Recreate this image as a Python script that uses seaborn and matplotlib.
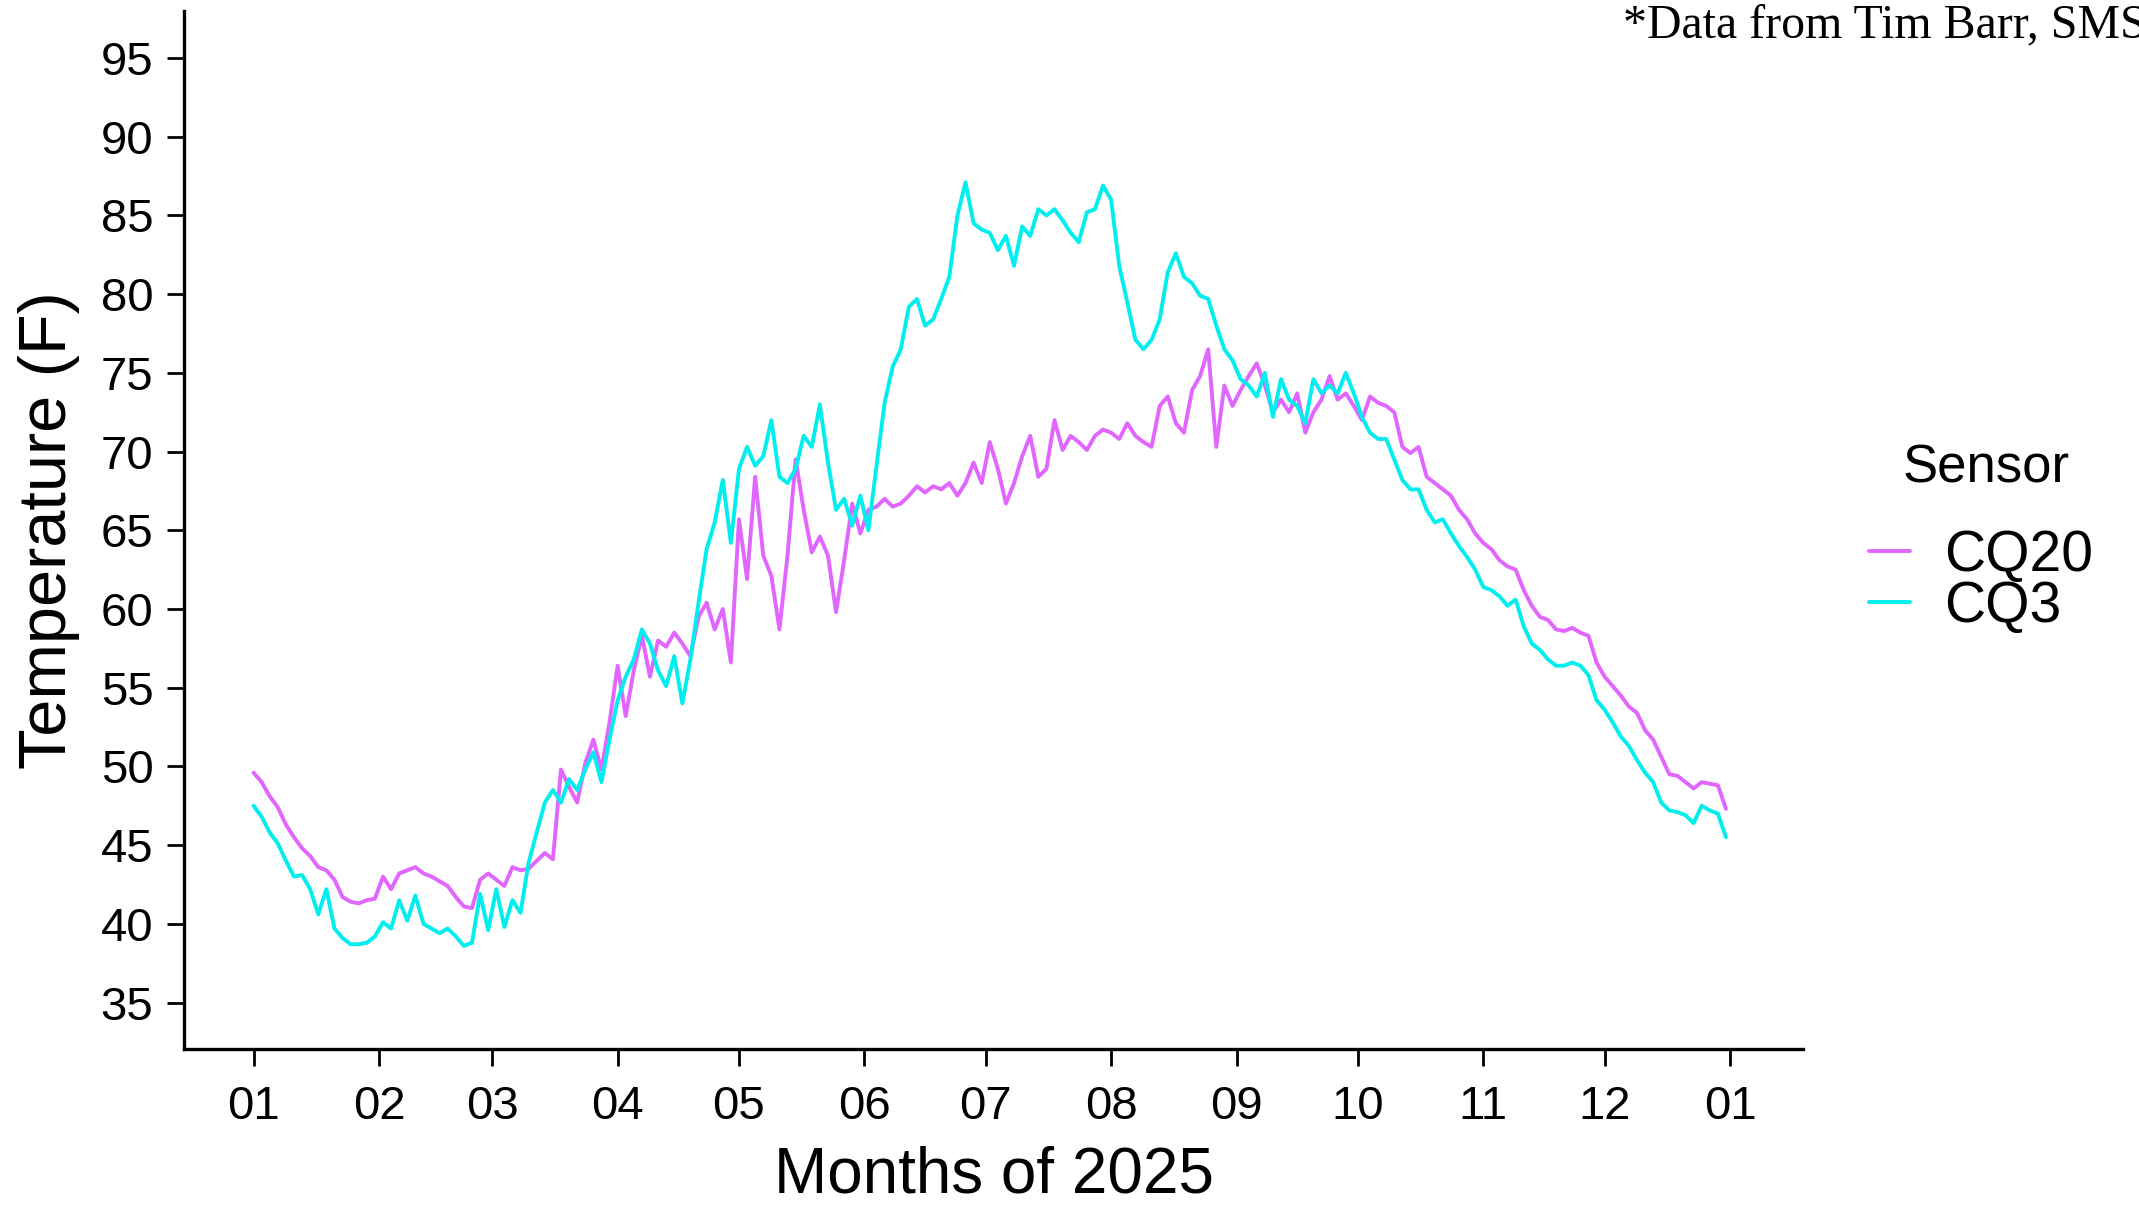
import pandas as pd
import matplotlib
matplotlib.use("Agg")
import matplotlib.pyplot as plt
import matplotlib.dates as mdates
import seaborn as sns

# readings every 2 days, Jan 1 -> Dec 31 2025
dates = pd.date_range("2025-01-01", "2025-12-31", freq="2D")

cq20 = [
    49.6, 49.0, 48.1, 47.4, 46.3, 45.5, 44.8, 44.3, 43.6, 43.4,
    42.8, 41.7, 41.4, 41.3, 41.5, 41.6, 43.0, 42.2, 43.2, 43.4,
    43.6, 43.2, 43.0, 42.7, 42.4, 41.7, 41.1, 41.0, 42.8, 43.2,
    42.8, 42.4, 43.6, 43.4, 43.5, 44.0, 44.5, 44.1, 49.8, 48.7,
    47.7, 50.2, 51.7, 49.8, 52.8, 56.4, 53.2, 56.1, 58.3, 55.7,
    58.0, 57.6, 58.5, 57.8, 57.0, 59.5, 60.4, 58.7, 60.0, 56.6,
    65.7, 61.9, 68.4, 63.4, 62.1, 58.7, 63.4, 69.5, 66.3, 63.6,
    64.6, 63.4, 59.8, 63.1, 66.7, 64.8, 66.3, 66.5, 67.0, 66.5,
    66.7, 67.2, 67.8, 67.4, 67.8, 67.6, 68.0, 67.2, 68.0, 69.3,
    68.0, 70.6, 68.9, 66.7, 68.0, 69.7, 71.0, 68.4, 68.9, 72.0,
    70.1, 71.0, 70.6, 70.1, 71.0, 71.4, 71.2, 70.8, 71.8, 71.0,
    70.6, 70.3, 72.9, 73.5, 71.8, 71.2, 73.9, 74.8, 76.5, 70.3,
    74.2, 72.9, 73.9, 74.8, 75.6, 74.2, 72.5, 73.3, 72.5, 73.7,
    71.2, 72.5, 73.3, 74.8, 73.3, 73.7, 72.9, 72.0, 73.5, 73.1,
    72.9, 72.5, 70.3, 69.9, 70.3, 68.4, 68.0, 67.6, 67.2, 66.3,
    65.7, 64.8, 64.2, 63.8, 63.1, 62.7, 62.5, 61.2, 60.2, 59.5,
    59.3, 58.7, 58.6, 58.8, 58.5, 58.3, 56.6, 55.7, 55.1, 54.5,
    53.8, 53.4, 52.3, 51.7, 50.6, 49.5, 49.4, 49.0, 48.6, 49.0,
    48.9, 48.8, 47.3,
]

cq3 = [
    47.5, 46.8, 45.8, 45.1, 44.0, 43.0, 43.1, 42.2, 40.6, 42.2,
    39.7, 39.1, 38.7, 38.7, 38.8, 39.2, 40.1, 39.7, 41.5, 40.2,
    41.8, 40.0, 39.7, 39.4, 39.7, 39.2, 38.6, 38.8, 41.9, 39.6,
    42.2, 39.8, 41.5, 40.7, 43.9, 45.8, 47.7, 48.5, 47.7, 49.2,
    48.5, 49.8, 50.9, 49.0, 51.7, 54.2, 55.7, 56.8, 58.7, 57.8,
    56.1, 55.1, 57.0, 54.0, 56.8, 60.4, 63.8, 65.5, 68.2, 64.2,
    68.9, 70.3, 69.1, 69.7, 72.0, 68.4, 68.0, 68.9, 71.0, 70.3,
    73.0, 69.3, 66.3, 67.0, 65.3, 67.2, 65.0, 69.1, 73.1, 75.4,
    76.5, 79.2, 79.7, 78.0, 78.4, 79.7, 81.1, 85.0, 87.1, 84.5,
    84.1, 83.9, 82.8, 83.7, 81.8, 84.3, 83.7, 85.4, 85.0, 85.4,
    84.7, 83.9, 83.3, 85.2, 85.4, 86.9, 86.0, 81.8, 79.5, 77.1,
    76.5, 77.1, 78.4, 81.4, 82.6, 81.1, 80.7, 79.9, 79.7, 78.0,
    76.5, 75.8, 74.6, 74.2, 73.5, 75.0, 72.2, 74.6, 73.3, 72.9,
    71.8, 74.6, 73.7, 74.2, 73.7, 75.0, 73.7, 72.2, 71.2, 70.8,
    70.8, 69.5, 68.2, 67.6, 67.6, 66.3, 65.5, 65.7, 64.8, 64.0,
    63.3, 62.5, 61.4, 61.2, 60.8, 60.2, 60.6, 58.9, 57.8, 57.4,
    56.8, 56.4, 56.4, 56.6, 56.4, 55.8, 54.2, 53.6, 52.8, 51.9,
    51.3, 50.4, 49.6, 49.0, 47.7, 47.2, 47.1, 46.9, 46.4, 47.5,
    47.2, 47.0, 45.5,
]

sensors = ["CQ20", "CQ3"]
colors = {"CQ20": "#E066FF", "CQ3": "#00EEEE"}
y_ticks = list(range(35, 100, 5))

df = pd.concat([
    pd.DataFrame({"date": dates, "temp": cq20, "Sensor": "CQ20"}),
    pd.DataFrame({"date": dates, "temp": cq3, "Sensor": "CQ3"}),
])

sns.set_style("ticks")
plt.rcParams["font.family"] = ["Liberation Sans", "DejaVu Sans"]
plt.rcParams.update({"text.color": "black", "axes.labelcolor": "black",
                     "xtick.color": "black", "ytick.color": "black"})

fig = plt.figure(figsize=(21.39, 12.05), dpi=100)
ax = fig.add_axes([0.086, 0.1295, 0.757, 0.8615])

sns.lineplot(data=df, x="date", y="temp", hue="Sensor", hue_order=sensors,
             palette=colors, linewidth=2.8, errorbar=None, ax=ax)

ax.set_xlim(pd.Timestamp("2024-12-14 19:00"), pd.Timestamp("2026-01-19 02:00"))
ax.set_ylim(32.05, 98.0)
ax.set_yticks(y_ticks)
ax.xaxis.set_major_locator(mdates.MonthLocator())
ax.xaxis.set_major_formatter(mdates.DateFormatter("%m"))

for side in ["top", "right"]:
    ax.spines[side].set_visible(False)
for side in ["left", "bottom"]:
    ax.spines[side].set_linewidth(2.4)
    ax.spines[side].set_color("black")
ax.tick_params(axis="both", length=12, width=2, labelsize=34)
ax.tick_params(axis="y", pad=10)
ax.tick_params(axis="x", pad=14)

ax.set_xlabel("Months of 2025", fontsize=46)
ax.set_ylabel("Temperature (F)", fontsize=48)
ax.xaxis.label.set_va("center")
ax.xaxis.set_label_coords(0.5, -0.122)
ax.yaxis.label.set_va("center")
ax.yaxis.set_label_coords(-0.0834, 0.5)

# legend: title placed separately so the gap above the keys matches
ax.get_legend().remove()
handles, labels = ax.get_legend_handles_labels()
leg = fig.legend(handles, labels, loc="center left",
                 bbox_to_anchor=(0.8738, 0.5172), frameon=False, fontsize=41,
                 handlelength=0.72, handletextpad=0.6, labelspacing=-0.05,
                 borderpad=0, borderaxespad=0)
for line in leg.get_lines():
    line.set_linewidth(2.8)
fig.text(0.8897, 0.6116, "Sensor", fontsize=38, ha="left", va="center")

fig.text(0.7588, 0.969, "*Data from Tim Barr, SMS", family="Liberation Serif",
         fontsize=34.5, ha="left", va="baseline")

fig.savefig("out.png", dpi=100)
